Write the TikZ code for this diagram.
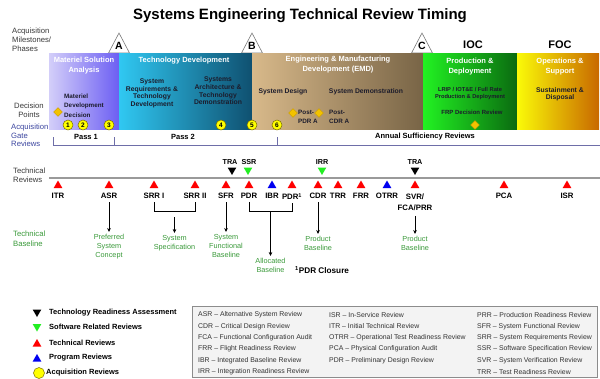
\documentclass[tikz,border=0pt]{standalone}
\usepackage{fontspec}
\setmainfont{Liberation Sans}
\usepackage{tikz}
\usetikzlibrary{positioning,arrows.meta,calc,shapes.geometric}

\definecolor{msaL}{HTML}{D3CEF9}
\definecolor{msaR}{HTML}{6C5EF3}
\definecolor{tdL}{HTML}{30C8F2}
\definecolor{tdR}{HTML}{0F5070}
\definecolor{emdL}{HTML}{D8B98A}
\definecolor{emdR}{HTML}{786446}
\definecolor{pdL}{HTML}{22F222}
\definecolor{pdR}{HTML}{0A6A10}
\definecolor{osL}{HTML}{FAFA08}
\definecolor{osR}{HTML}{C86800}
\definecolor{sideInk}{HTML}{3A3A3A}
\definecolor{gateBlue}{HTML}{3C46A0}
\definecolor{gateLine}{HTML}{6E6EA8}
\definecolor{baseGreen}{HTML}{3A9A3A}
\definecolor{revRed}{HTML}{FF0000}
\definecolor{progBlue}{HTML}{0000F0}
\definecolor{swGreen}{HTML}{22EE22}
\definecolor{decGold}{HTML}{F2C200}
\definecolor{decEdge}{HTML}{C89A00}
\definecolor{dotYellow}{HTML}{FFFF00}
\definecolor{dotEdge}{HTML}{7A6E00}
\definecolor{mileGray}{HTML}{7A7A7A}
\definecolor{lineGray}{HTML}{9A9A9A}
\definecolor{boxFill}{HTML}{F3F3F3}
\definecolor{boxEdge}{HTML}{8C8C8C}
\definecolor{abbrInk}{HTML}{333333}
\definecolor{noteInk}{HTML}{1C1C2C}

\begin{document}
\begin{tikzpicture}[
  x=1pt, y=-1pt,
  phaseBox/.style={anchor=north west, minimum height=76, inner sep=0pt},
  phaseTitle/.style={anchor=north, align=center, inner sep=0pt, text=white,
                     font=\bfseries\fontsize{7.5}{9.5}\selectfont},
  phaseNote/.style={anchor=north, align=center, inner sep=0pt, text=noteInk,
                    font=\bfseries\fontsize{6.8}{7.8}\selectfont},
  sideLabel/.style={anchor=north west, align=left, inner sep=0pt, text=sideInk,
                    font=\fontsize{7.7}{8.7}\selectfont},
  decPoint/.style={diamond, fill=decGold, draw=decEdge, line width=0.4,
                   minimum size=9, inner sep=0pt},
  gateDot/.style={circle, fill=dotYellow, draw=dotEdge, line width=0.5,
                  minimum size=10, inner sep=0pt,
                  font=\bfseries\fontsize{6.5}{6.5}\selectfont},
  gateText/.style={font=\bfseries\fontsize{7.5}{8}\selectfont, inner sep=0pt},
  upTri/.style={regular polygon, regular polygon sides=3, minimum size=10,
                inner sep=0pt},
  downTri/.style={upTri, shape border rotate=180},
  revLabel/.style={anchor=north, align=center, inner sep=0pt,
                   font=\bfseries\fontsize{7.8}{11.5}\selectfont},
  baseLabel/.style={anchor=north, align=center, inner sep=0pt, text=baseGreen,
                    font=\fontsize{7.3}{9}\selectfont},
  baseArrow/.style={-{Stealth[length=4pt, width=3.6pt]}, line width=0.7,
                    shorten <=3pt, shorten >=2pt},
  bracket/.style={line width=0.7},
  keyText/.style={anchor=west, inner sep=0pt,
                  font=\bfseries\fontsize{7.5}{8}\selectfont},
  abbrText/.style={anchor=west, inner sep=0pt, text=abbrInk,
                   font=\fontsize{6.9}{8}\selectfont}
]
  \fill[white] (0,0) rectangle (600,378);
  \useasboundingbox (0,0) rectangle (600,378);

  \node[font=\bfseries\fontsize{15}{18}\selectfont] (title) at (300,16)
    {Systems Engineering Technical Review Timing};

  % Milestones
  \foreach \m/\x in {A/119, B/252, C/422} {
    \filldraw[fill=white, draw=mileGray, line width=0.6]
      (\x-10.5,53) -- (\x,33) -- (\x+10.5,53) -- cycle;
    \node[font=\bfseries\fontsize{10.5}{12}\selectfont] (ms\m) at (\x,46) {\m};
  }
  \node[font=\bfseries\fontsize{11}{12}\selectfont] (ioc) at (473,45) {IOC};
  \node[font=\bfseries\fontsize{11}{12}\selectfont] (foc) at (560,45) {FOC};

  % Phases
  \node[phaseBox, minimum width=70, left color=msaL, right color=msaR] (msa) at (49,53) {};
  \node[phaseBox, minimum width=133, left color=tdL, right color=tdR] (td) at (119,53) {};
  \node[phaseBox, minimum width=171, left color=emdL, right color=emdR] (emd) at (252,53) {};
  \node[phaseBox, minimum width=94, left color=pdL, right color=pdR] (pd) at (423,53) {};
  \node[phaseBox, minimum width=82, left color=osL, right color=osR] (os) at (517,53) {};

  \node[phaseTitle] (msaT) at (84,57) {Materiel Solution\\Analysis};
  \node[phaseTitle] (tdT) at (184,57) {Technology Development};
  \node[phaseTitle, font=\bfseries\fontsize{7.5}{10}\selectfont] (emdT) at (338,56)
    {Engineering \& Manufacturing\\Development (EMD)};
  \node[phaseTitle] (pdT) at (470,58) {Production \&\\Deployment};
  \node[phaseTitle] (osT) at (560,58) {Operations \&\\Support};

  \node[phaseNote] (tdReq) at (152,78.4) {System\\Requirements \&\\Technology\\Development};
  \node[phaseNote] (tdArch) at (218,76.6) {Systems\\Architecture \&\\Technology\\Demonstration};
  \node[phaseNote, anchor=north west, align=left,
        font=\bfseries\fontsize{6.3}{9.5}\selectfont] (mdd) at (64,93.5)
    {Materiel\\Development\\Decision};
  \node[decPoint] (mddD) at (58,112) {};
  \node[phaseNote] (sysDes) at (283,88.6) {System Design};
  \node[phaseNote] (sysDemo) at (366,88.6) {System Demonstration};
  \node[decPoint] (postPdrD) at (293,113) {};
  \node[phaseNote, anchor=north west, align=left,
        font=\bfseries\fontsize{6.3}{9}\selectfont] (postPdr) at (298,109.5) {Post-\\PDR A};
  \node[decPoint] (postCdrD) at (319,113) {};
  \node[phaseNote, anchor=north west, align=left,
        font=\bfseries\fontsize{6.3}{9}\selectfont] (postCdr) at (329,109.5) {Post-\\CDR A};
  \node[phaseNote, font=\bfseries\fontsize{5.7}{7}\selectfont] (lrip) at (470,87.5)
    {LRIP / IOT\&E / Full Rate\\Production \& Deployment};
  \node[phaseNote, font=\bfseries\fontsize{6}{7}\selectfont] (frp) at (472,109.8)
    {FRP Decision Review};
  \node[decPoint] (frpD) at (475,125) {};
  \node[phaseNote, font=\bfseries\fontsize{6.8}{7}\selectfont] (sust) at (560,87.5)
    {Sustainment \&\\Disposal};

  \foreach \n/\x in {1/68, 2/83, 3/109, 4/221, 5/252, 6/277}
    \node[gateDot] (gd\n) at (\x,125) {\n};

  % Row labels
  \node[sideLabel] (msLbl) at (12,28.2) {Acquisition\\Milestones/\\Phases};
  \node[sideLabel, anchor=north, align=center] (dpLbl) at (29,103.2) {Decision\\Points};
  \node[sideLabel, text=gateBlue, font=\fontsize{7.7}{8.5}\selectfont] (agLbl) at (11,124.2)
    {Acquisition\\Gate\\Reviews};
  \node[sideLabel, font=\fontsize{7.7}{9}\selectfont] (trLbl) at (13,168.2) {Technical\\Reviews};
  \node[sideLabel, text=baseGreen, font=\fontsize{7.7}{9.5}\selectfont] (tbLbl) at (13,231.2)
    {Technical\\Baseline};

  % Gate reviews
  \draw[gateLine, line width=0.8] (53,145) -- (600,145);
  \foreach \x in {53,114,277}
    \draw[gateLine, line width=0.8] (\x,137) -- (\x,145);
  \node[gateText] (pass1) at (86,137) {Pass 1};
  \node[gateText] (pass2) at (183,137) {Pass 2};
  \node[gateText] (annual) at (425,137) {Annual Sufficiency Reviews};

  % Technical reviews
  \draw[lineGray, line width=1.6] (49,178) -- (600,178);
  \foreach \k/\x/\c/\t in {itr/58/revRed/ITR, asr/109/revRed/ASR,
      srrA/154/revRed/SRR I, srrB/195/revRed/SRR II, sfr/226/revRed/SFR,
      pdr/249/revRed/PDR, ibr/272/progBlue/IBR,
      pdrB/292/revRed/PDR\textsuperscript{1}, cdr/318/revRed/CDR,
      trr/338/revRed/TRR, frr/361/revRed/FRR, otrr/387/progBlue/OTRR,
      pca/504/revRed/PCA, isr/567/revRed/ISR} {
    \node[upTri, fill=\c] (\k) at (\x,185.5) {};
    \node[revLabel] (\k-lbl) at (\x,193.2) {\t};
  }
  \node[upTri, fill=revRed] (svr) at (415,185.5) {};
  \node[revLabel] (svr-lbl) at (415,193.2) {SVR/\\FCA/PRR};

  \foreach \k/\x/\lx/\c/\t in {traA/232/230/black/TRA, ssr/248/249/swGreen/SSR,
      irr/322/322/swGreen/IRR, traB/415/415/black/TRA} {
    \node[downTri, fill=\c] (\k) at (\x,170) {};
    \node[revLabel, anchor=south, font=\bfseries\fontsize{7.2}{8}\selectfont]
      (\k-lbl) at (\lx,164.5) {\t};
  }

  % Baselines
  \node[baseLabel] (prefCon) at (109,234) {Preferred\\System\\Concept};
  \node[baseLabel] (sysSpec) at (174.5,235) {System\\Specification};
  \node[baseLabel] (sysFunc) at (226,234) {System\\Functional\\Baseline};
  \node[baseLabel] (alloc) at (270.5,258) {Allocated\\Baseline};
  \node[baseLabel] (prodA) at (318,236) {Product\\Baseline};
  \node[baseLabel] (prodB) at (415,236) {Product\\Baseline};
  \node[anchor=west, inner sep=0pt, font=\bfseries\fontsize{8.2}{9}\selectfont]
    (pdrNote) at (295,270) {\textsuperscript{1}PDR Closure};

  \draw[baseArrow] (asr-lbl.south) -- (prefCon.north);
  \draw[bracket] ([yshift=-3pt]srrA-lbl.south) -- ++(0,9) -| ([yshift=-3pt]srrB-lbl.south);
  \draw[baseArrow] ($(srrA-lbl.south)!0.5!(srrB-lbl.south)+(0,15)$) -- (sysSpec.north);
  \draw[baseArrow] (sfr-lbl.south) -- (sysFunc.north);
  \draw[bracket] ([yshift=-3pt]pdr-lbl.south) -- ++(0,9) -| ([yshift=-3pt]pdrB-lbl.south);
  \draw[baseArrow, shorten <=0pt] ($(pdr-lbl.south)!0.5!(pdrB-lbl.south)+(0,12)$) -- (alloc.north);
  \draw[baseArrow] (cdr-lbl.south) -- (prodA.north);
  \draw[baseArrow, shorten <=5pt] (svr-lbl.south) -- (prodB.north);

  % Key
  \node[downTri, fill=black] (kTra) at (37,312) {};
  \node[keyText] (kTraT) at (49,313) {Technology Readiness Assessment};
  \node[downTri, fill=swGreen] (kSw) at (37,326.5) {};
  \node[keyText] (kSwT) at (49,327) {Software Related Reviews};
  \node[upTri, fill=revRed] (kTech) at (37,344) {};
  \node[keyText] (kTechT) at (49,343) {Technical Reviews};
  \node[upTri, fill=progBlue] (kProg) at (37,359) {};
  \node[keyText] (kProgT) at (49,358) {Program Reviews};
  \node[gateDot, minimum size=11] (kAcq) at (39,373) {};
  \node[keyText] (kAcqT) at (46,373) {Acquisition Reviews};

  % Abbreviations
  \node[phaseBox, draw=boxEdge, fill=boxFill, line width=0.6,
        minimum width=405, minimum height=71] (abbrBox) at (192,306) {};
  \foreach \t [count=\i] in {ASR -- Alternative System Review,
      CDR -- Critical Design Review, FCA -- Functional Configuration Audit,
      FRR -- Flight Readiness Review, IBR -- Integrated Baseline Review,
      IRR -- Integration Readiness Review}
    \node[abbrText] (abA\i) at (198,303.6+11.4*\i) {\t};
  \foreach \t [count=\i] in {ISR -- In-Service Review,
      ITR -- Initial Technical Review, OTRR -- Operational Test Readiness Review,
      PCA -- Physical Configuration Audit, PDR -- Preliminary Design Review}
    \node[abbrText] (abB\i) at (329,303.6+11.4*\i) {\t};
  \foreach \t [count=\i] in {PRR -- Production Readiness Review,
      SFR -- System Functional Review, SRR -- System Requirements Review,
      SSR -- Software Specification Review, SVR -- System Verification Review,
      TRR -- Test Readiness Review}
    \node[abbrText] (abC\i) at (477,303.6+11.4*\i) {\t};
\end{tikzpicture}
\end{document}
